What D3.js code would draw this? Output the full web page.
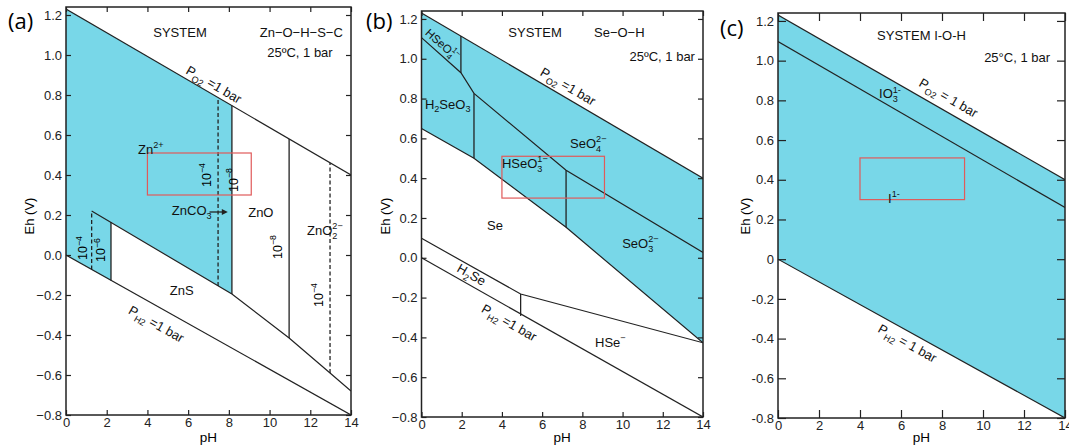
<!DOCTYPE html>
<html>
<head>
<meta charset="utf-8">
<script src="https://cdn.jsdelivr.net/npm/d3@7/dist/d3.min.js"></script>
<style>
  body { margin: 0; background: #fff; }
  svg { font-family: "Liberation Sans", Arial, sans-serif; }
</style>
</head>
<body>
<div id="chart"></div>
<script>
// ---- data (pH, Eh in V) ----
const phTicks = [0, 2, 4, 6, 8, 10, 12, 14]
const ehTicks = [-0.8, -0.6, -0.4, -0.2, 0, 0.2, 0.4, 0.6, 0.8, 1.0, 1.2]
const o2Line = [[0, 1.23], [14, 0.40]]
const h2Line = [[0, 0], [14, -0.80]]
const box = {ph: [4, 9.1], eh: [0.30, 0.51]}

// (a) Zn-O-H-S-C
const aField = [[0, 1.23], [8.15, 0.747], [8.15, -0.195], [2.21, 0.165], [2.21, -0.128], [0, 0]]
const aZnS = [[1.26, 0.22], [8.15, -0.195], [10.96, -0.415], [12.97, -0.59], [14, -0.68]]
const aVerticals = [
  [1.26, -0.072, 0.22, true], [2.21, -0.128, 0.165, false],
  [7.47, -0.155, 0.787, true], [8.15, -0.195, 0.747, false],
  [10.96, -0.415, 0.58, false], [12.97, -0.59, 0.46, true]
]
const aArrow = [[7.05, 0.215], [7.95, 0.215]]

// (b) Se-O-H
const bField = [[0, 1.23], [14, 0.40], [14, -0.427], [7.19, 0.153], [2.61, 0.50], [0, 0.65]]
const bUpper = [[0, 1.106], [1.96, 0.93], [2.61, 0.826], [7.19, 0.44], [14, 0.027]]
const bLower = [[0, 0.65], [2.61, 0.50], [7.19, 0.153], [14, -0.427]]
const bSelenide = [[0, 0.098], [4.93, -0.182], [14, -0.427]]
const bVerticals = [[1.96, 0.93, 1.114, false], [2.61, 0.50, 0.826, false], [7.19, 0.153, 0.44, false], [4.93, -0.292, -0.182, false]]

// (c) I-O-H
const cField = [[0, 1.23], [14, 0.40], [14, -0.80], [0, 0]]
const cIodate = [[0, 1.096], [14, 0.26]]

// labels: text, pH, Eh, anchor, font size, line to follow (optional)
const aLabels = [
  ["SYSTEM", 5.6, 1.09, "middle", 13], ["Zn\u2212O\u2212H\u2212S\u2212C", 13.6, 1.09, "end", 13],
  ["25\u00baC, 1 bar", 13.1, 0.99, "end", 13], ["Zn^{2+}", 3.54, 0.505, "start", 13],
  ["ZnCO_{3}", 5.2, 0.20, "start", 13], ["ZnO", 8.95, 0.19, "start", 13],
  ["ZnO_{2}^{2\u2212}", 11.84, 0.10, "start", 13], ["ZnS", 5.1, -0.20, "start", 13],
  ["P_{O2} =1 bar", 5.85, 0.91, "start", 13, o2Line], ["P_{H2}  =1 bar", 3.02, -0.29, "start", 13, h2Line]
]
const aConc = [["10^{\u22124}", 1.05, 0.035], ["10^{\u22126}", 1.93, 0.025], ["10^{\u22124}", 7.1, 0.40],
  ["10^{\u22128}", 8.45, 0.375], ["10^{\u22128}", 10.6, 0.04], ["10^{\u22124}", 12.6, -0.2]]
const bLabels = [
  ["SYSTEM", 5.65, 1.11, "middle", 13], ["Se\u2212O\u2212H", 8.58, 1.11, "start", 13],
  ["25\u00baC, 1 bar", 13.6, 0.99, "end", 13], ["HSeO_{4}^{1\u2212}", 0.15, 1.125, "start", 11.5, [[0, 1.106], [1.96, 0.93]]],
  ["H_{2}SeO_{3}", 0.17, 0.75, "start", 13], ["SeO_{4}^{2\u2212}", 7.39, 0.55, "start", 13],
  ["HSeO_{3}^{1\u2212}", 4.0, 0.45, "start", 13], ["Se", 3.26, 0.14, "start", 13],
  ["SeO_{3}^{2\u2212}", 9.98, 0.05, "start", 13], ["H_{2}Se", 1.72, -0.067, "start", 13, [[0, 0.098], [4.93, -0.182]]],
  ["P_{O2} =1 bar", 5.85, 0.92, "start", 13, o2Line], ["P_{H2}  =1 bar", 2.93, -0.27, "start", 13, h2Line],
  ["HSe^{\u2212}", 8.63, -0.45, "start", 13]
]
const cLabels = [
  ["SYSTEM I-O-H", 7.0, 1.105, "middle", 13], ["25\u00b0C, 1 bar", 13.27, 0.995, "end", 13],
  ["IO_{3}^{1-}", 4.93, 0.81, "start", 13], ["I^{1-}", 5.37, 0.285, "start", 13],
  ["P_{O2} = 1 bar", 6.83, 0.875, "start", 13, o2Line], ["P_{H2} = 1 bar", 4.83, -0.365, "start", 13, h2Line]
]

const CYAN = "#78d7e8"
const INK = "#222"

const svg = d3.select("#chart").append("svg")
  .attr("width", 1069)
  .attr("height", 448)

// writes "A_{sub}^{sup}" as tspans
function rich(text, str, fs) {
  const parts = str.split(/([_^]\{[^}]*\})/).filter(s => s.length)
  let shift = 0, prev = null
  parts.forEach(p => {
    let s = 0, t = p, size = fs, dx = 0
    if (p[0] == "_" && p[1] == "{") { s = 0.3 * fs; t = p.slice(2, -1); size = fs * 0.7 }
    else if (p[0] == "^" && p[1] == "{") {
      s = -0.45 * fs; t = p.slice(2, -1); size = fs * 0.7
      if (prev && prev.sub) dx = -prev.len * 0.556 * fs * 0.7
    }
    text.append("tspan").attr("dy", s - shift).attr("dx", dx).attr("font-size", size).text(t)
    prev = {sub: p[0] == "_", len: t.length}
    shift = s
  })
}

function drawPanel(cfg) {
  const x = d3.scaleLinear().domain([0, 14]).range([cfg.left, cfg.right])
  const y = d3.scaleLinear().domain([-0.8, 1.24]).range([cfg.bottom, cfg.top])
  const g = svg.append("g")
  const clipId = "clip" + cfg.id
  g.append("clipPath").attr("id", clipId).append("rect")
    .attr("x", cfg.left).attr("y", cfg.top)
    .attr("width", cfg.right - cfg.left).attr("height", cfg.bottom - cfg.top)

  const line = d3.line().x(d => x(d[0])).y(d => y(d[1]))
  const plot = g.append("g").attr("clip-path", `url(#${clipId})`)

  plot.append("path").attr("d", line(cfg.field) + "Z").attr("fill", CYAN)

  cfg.lines.forEach(l => {
    plot.append("path").attr("d", line(l)).attr("fill", "none")
      .attr("stroke", INK).attr("stroke-width", 1.2)
  })
  ;(cfg.verticals || []).forEach(v => {
    plot.append("line")
      .attr("x1", x(v[0])).attr("x2", x(v[0]))
      .attr("y1", y(v[1])).attr("y2", y(v[2]))
      .attr("stroke", INK).attr("stroke-width", 1.3)
      .attr("stroke-dasharray", v[3] ? "4,2.5" : null)
  })

  // red box
  g.append("rect")
    .attr("x", x(box.ph[0])).attr("y", y(box.eh[1]))
    .attr("width", x(box.ph[1]) - x(box.ph[0]))
    .attr("height", y(box.eh[0]) - y(box.eh[1]))
    .attr("fill", "none").attr("stroke", "#e05a5a").attr("stroke-width", 1.2)

  // axes
  const tl = cfg.tick
  const ax = (axis) => axis.tickSizeOuter(0)
  const left = g.append("g").attr("transform", `translate(${cfg.left},0)`)
    .call(ax(d3.axisLeft(y).tickValues(ehTicks).tickSizeInner(-tl).tickPadding(4).tickFormat(cfg.fmt)))
  const right = g.append("g").attr("transform", `translate(${cfg.right},0)`)
    .call(ax(d3.axisRight(y).tickValues(ehTicks).tickSizeInner(-tl).tickFormat("")))
  const top = g.append("g").attr("transform", `translate(0,${cfg.top})`)
    .call(ax(d3.axisTop(x).tickValues(phTicks).tickSizeInner(-tl).tickFormat("")))
  const bottom = g.append("g").attr("transform", `translate(0,${cfg.bottom})`)
    .call(ax(d3.axisBottom(x).tickValues(phTicks).tickSizeInner(-tl).tickPadding(3)))
  ;[left, right, top, bottom].forEach(a => {
    a.select(".domain").remove()
    a.selectAll("line").attr("stroke", INK).attr("stroke-width", 1.2)
    a.selectAll("text").attr("font-size", 13).attr("fill", INK)
      .attr("font-family", '"Liberation Sans", Arial, sans-serif')
  })
  g.append("rect")
    .attr("x", cfg.left).attr("y", cfg.top)
    .attr("width", cfg.right - cfg.left).attr("height", cfg.bottom - cfg.top)
    .attr("fill", "none").attr("stroke", INK).attr("stroke-width", 1.5)

  // labels
  cfg.labels.forEach(l => {
    const t = g.append("text").attr("x", x(l[1])).attr("y", y(l[2]))
      .attr("text-anchor", l[3]).attr("font-size", l[4]).attr("fill", "#111")
    if (l[5]) {
      const a = l[5][0], b = l[5][l[5].length - 1]
      const ang = Math.atan2(y(b[1]) - y(a[1]), x(b[0]) - x(a[0])) * 180 / Math.PI
      t.attr("transform", `rotate(${ang},${x(l[1])},${y(l[2])})`)
    }
    rich(t, l[0], l[4])
  })
  ;(cfg.conc || []).forEach(l => {
    const t = g.append("text").attr("text-anchor", "middle").attr("font-size", 12.5)
      .attr("transform", `translate(${x(l[1])},${y(l[2])}) rotate(-90)`)
    rich(t, l[0], 12.5)
  })
  if (cfg.arrow) {
    const a = cfg.arrow
    g.append("line").attr("x1", x(a[0][0])).attr("y1", y(a[0][1]))
      .attr("x2", x(a[1][0]) - 5).attr("y2", y(a[1][1]))
      .attr("stroke", INK).attr("stroke-width", 1.3)
    g.append("path")
      .attr("d", `M${x(a[1][0])},${y(a[1][1])} l-6,-3 l0,6 Z`).attr("fill", INK)
  }

  // axis titles and panel letter
  g.append("text").attr("font-size", 13).attr("text-anchor", "middle")
    .attr("transform", `translate(${cfg.ehX},216) rotate(-90)`).text("Eh (V)")
  g.append("text").attr("font-size", 13.5).attr("text-anchor", "middle")
    .attr("x", (cfg.left + cfg.right) / 2).attr("y", 442).text("pH")
  g.append("text").attr("font-size", 22).attr("x", cfg.letter[0]).attr("y", cfg.letter[1])
    .attr("font-family", '"Open Sans", "Liberation Sans", sans-serif').text(cfg.name)
}

const fmtA = d => d3.format(".1f")(d)
const fmtC = d => d === 0 ? "0" : d3.format(".1f")(d).replace("\u2212", "-")

drawPanel({id: "a", name: "(a)", left: 66, right: 351, top: 7, bottom: 415, tick: 5, fmt: fmtA,
  field: aField, lines: [o2Line, h2Line, aZnS], verticals: aVerticals,
  labels: aLabels, conc: aConc, arrow: aArrow, ehX: 34, letter: [8, 29]})
drawPanel({id: "b", name: "(b)", left: 421.5, right: 703, top: 11, bottom: 417, tick: 5, fmt: fmtA,
  field: bField, lines: [o2Line, h2Line, bUpper, bLower, bSelenide], verticals: bVerticals,
  labels: bLabels, ehX: 390, letter: [366, 29]})
drawPanel({id: "c", name: "(c)", left: 778, right: 1065, top: 13, bottom: 418, tick: 8, fmt: fmtC,
  field: cField, lines: [o2Line, h2Line, cIodate],
  labels: cLabels, ehX: 750, letter: [720, 36]})
</script>
</body>
</html>
